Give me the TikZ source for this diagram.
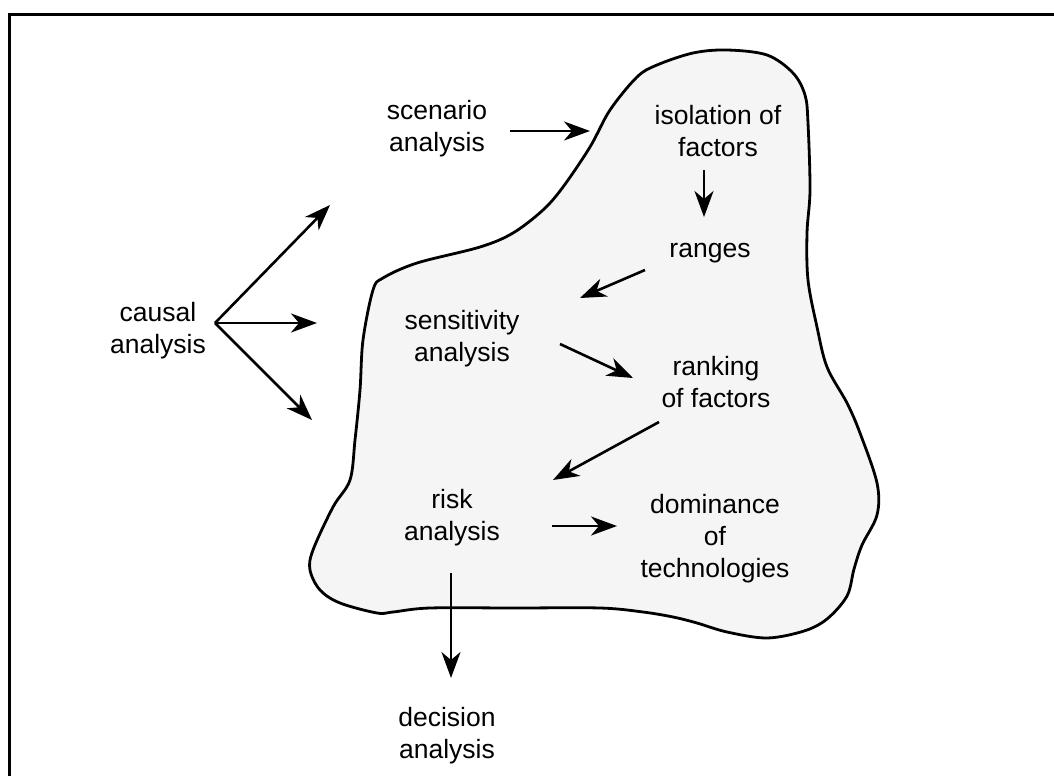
\documentclass[tikz,border=0pt]{standalone}
\usepackage{fontspec}
\setmainfont{Liberation Sans}
\usetikzlibrary{arrows.meta}

\begin{document}
\begin{tikzpicture}[x=1pt, y=-1pt,
    font=\fontsize{26.5}{32}\selectfont,
    txt/.style={align=center, inner sep=0pt},
    flow/.style={-{Stealth[length=26pt, width=19pt, inset=8pt]}, line width=2.6pt}]
    \useasboundingbox (0,0) rectangle (1054,776);

    % Frame (cut off at right and bottom)
    \draw[line width=3pt] (9.5,776) -- (9.5,14.5) -- (1054,14.5);

    % Blob
    \draw[line width=2.8pt, fill=black!4, line join=round]
        plot[smooth cycle, tension=0.55] coordinates {(727,50) (767,55) (793,73) (805,95) (808,123) (810,190) (807,233) (808,280) (817,327) (827,367) (847,403) (860,433) (877,483) (877,515) (862,545) (854,569) (847,596) (827,619) (804,631) (767,638) (727,632) (697,623) (673,617) (643,612) (600,608) (515,608) (430,608) (393,612) (377,613) (340,603) (320,590) (310,570) (313,550) (333,507) (350,480) (355,440) (360,390) (363,340) (373,290) (383,278) (417,263) (480,247) (513,233) (543,210) (563,187) (590,147) (610,110) (637,77) (657,65) (693,53)};

    % Labels
    \node[txt] (causal) at (158,331) {causal\\analysis};
    \node[txt] (scen) at (437,129) {scenario\\analysis};
    \node[txt] (isol) at (718,131) {isolation of\\factors};
    \node[txt] (ranges) at (710,253) {ranges};
    \node[txt] (sens) at (462,339) {sensitivity\\analysis};
    \node[txt] (rank) at (716,382) {ranking\\of factors};
    \node[txt] (risk) at (452,518) {risk\\analysis};
    \node[txt] (dom) at (715,539) {dominance\\of\\technologies};
    \node[txt] (dec) at (447,736) {decision\\analysis};

    % Arrows out of causal analysis
    \draw[flow] ([shift={(57,-8)}]causal.center) -- ([shift={(-107,76)}]scen.center);
    \draw[flow] ([shift={(57,-8)}]causal.center) -- ([shift={(-145,-16)}]sens.center);
    \draw[flow] ([shift={(57,-8)}]causal.center) -- ([shift={(-140,-98)}]risk.center);

    % Chain inside the blob
    \draw[flow] ([shift={(73,2)}]scen.center) -- ([shift={(-128,0)}]isol.center);
    \draw[flow] ([shift={(-14,39)}]isol.center) -- ([shift={(-6,-36)}]ranges.center);
    \draw[flow] ([shift={(-65,17)}]ranges.center) -- ([shift={(118,-41)}]sens.center);
    \draw[flow] ([shift={(98,5)}]sens.center) -- ([shift={(-83,-4)}]rank.center);
    \draw[flow] ([shift={(-57,40)}]rank.center) -- ([shift={(101,-38)}]risk.center);
    \draw[flow] ([shift={(100,8)}]risk.center) -- ([shift={(-98,-13)}]dom.center);
    \draw[flow] ([shift={(-1,55)}]risk.center) -- ([shift={(4,-58)}]dec.center);

\end{tikzpicture}
\end{document}
